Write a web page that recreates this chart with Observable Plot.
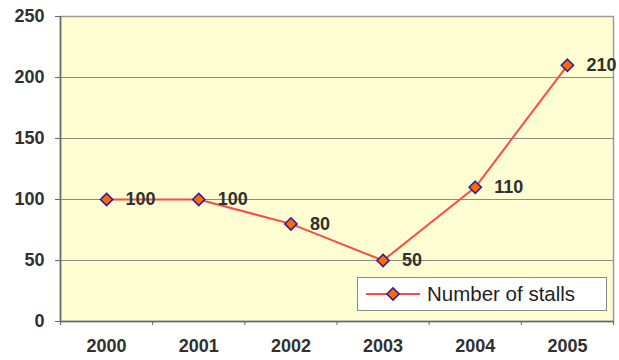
<!DOCTYPE html>
<html>
<head>
<meta charset="utf-8">
<script src="https://cdn.jsdelivr.net/npm/d3@7"></script>
<script src="https://cdn.jsdelivr.net/npm/@observablehq/plot@0.6"></script>
<style>
  body { margin: 0; background: #fff; }
  #chart { position: relative; width: 619px; height: 360px; font-family: "Liberation Sans", Arial, sans-serif; }
  #chart svg { display: block; }
  .legend {
    position: absolute; left: 357px; top: 277px; width: 248px; height: 32px;
    background: #fff; border: 1px solid #8a8a8a; display: flex; align-items: center;
    font-size: 20.5px; color: #1f1f1f; white-space: nowrap;
  }
  .legend svg { margin-left: 7px; margin-right: 6px; }
</style>
</head>
<body>
<div id="chart"></div>
<script>
// Stall counts per year
const years = [2000, 2001, 2002, 2003, 2004, 2005];
const stalls = [100, 100, 80, 50, 110, 210];
const yTicks = [0, 50, 100, 150, 200, 250];
const seriesName = "Number of stalls";

const data = years.map((year, i) => ({ year, stalls: stalls[i] }));
// category edges between the years, where the x tick marks sit
const bandEdges = d3.range(years.length + 1).map(i => years[0] - 0.5 + i);

const lineColor = "#FF4848";
const markerFill = "#FF6A00";
const markerStroke = "#33208F";
const textColor = "#303030";
const font = "'Liberation Sans', Arial, sans-serif";

const plot = Plot.plot({
  width: 619,
  height: 360,
  marginLeft: 60,
  marginRight: 6,
  marginTop: 16,
  marginBottom: 39,
  style: { fontFamily: font, fontSize: "18px", background: "transparent", overflow: "visible" },
  x: { domain: [bandEdges[0], bandEdges[bandEdges.length - 1]], label: null },
  y: { domain: [0, 250], label: null },
  marks: [
    Plot.frame({ fill: "#FFFED2", stroke: "none" }),
    Plot.gridY(yTicks, { stroke: "#8c8c80", strokeOpacity: 1, strokeWidth: 1 }),
    Plot.frame({ stroke: "#9a9a9a", strokeWidth: 1.5 }),
    Plot.ruleX([bandEdges[0]], { stroke: "#666", strokeWidth: 1.5 }),
    Plot.ruleY([0], { stroke: "#666", strokeWidth: 1.5 }),
    Plot.axisY(yTicks, {
      tickSize: 5, tickPadding: 11, label: null, stroke: "#666",
      fill: textColor, fontWeight: "bold", fontSize: 18, tickFormat: d => String(d)
    }),
    Plot.axisX(bandEdges, { tickSize: 4, tickFormat: () => "", label: null, stroke: "#666" }),
    Plot.axisX(years, {
      tickSize: 0, tickPadding: 18, label: null,
      fill: textColor, fontWeight: "bold", fontSize: 18, tickFormat: d => String(d)
    }),
    Plot.line(data, { x: "year", y: "stalls", stroke: lineColor, strokeWidth: 2 }),
    Plot.dot(data, {
      x: "year", y: "stalls", symbol: "diamond2", r: 5.5,
      fill: markerFill, stroke: markerStroke, strokeWidth: 1.6
    }),
    Plot.text(data, {
      x: "year", y: "stalls", text: d => String(d.stalls),
      dx: 19, textAnchor: "start", fill: textColor, fontWeight: "bold", fontSize: 18
    })
  ]
});

const chart = document.getElementById("chart");
chart.appendChild(plot);

// legend box with line-and-diamond swatch
const legend = document.createElement("div");
legend.className = "legend";
legend.innerHTML =
  `<svg width="56" height="16" viewBox="0 0 56 16">
     <line x1="1" y1="8" x2="55" y2="8" stroke="${lineColor}" stroke-width="2"/>
     <path d="M28 1.9 L34.1 8 L28 14.1 L21.9 8 Z" fill="${markerFill}" stroke="${markerStroke}" stroke-width="1.6"/>
   </svg><span>${seriesName}</span>`;
chart.appendChild(legend);
</script>
</body>
</html>
